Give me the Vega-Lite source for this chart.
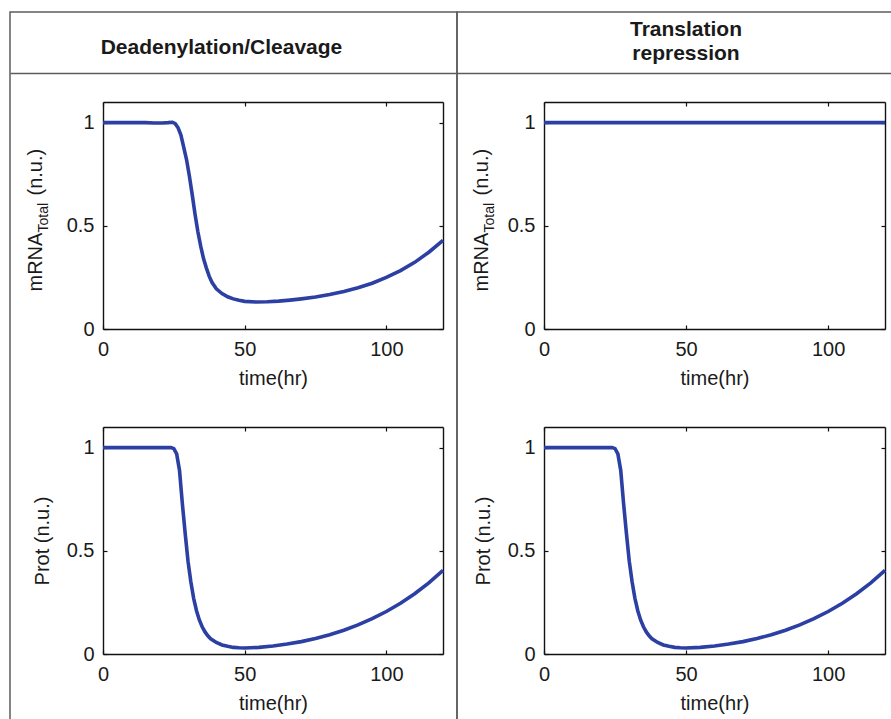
{
  "$schema": "https://vega.github.io/schema/vega-lite/v6.json",
  "padding": {"left": 9, "top": 11, "right": 0, "bottom": 0},
  "spacing": 0,
  "bounds": "flush",
  "datasets": {
    "mrna_dc": [
      {"t": 0, "v": 1}, {"t": 5, "v": 1}, {"t": 10, "v": 1}, {"t": 15, "v": 1}, {"t": 18, "v": 0.998}, {"t": 21, "v": 0.998},
      {"t": 23, "v": 1.0}, {"t": 24.5, "v": 1.002}, {"t": 25.5, "v": 0.995}, {"t": 26.5, "v": 0.975}, {"t": 27.5, "v": 0.94},
      {"t": 28.5, "v": 0.88}, {"t": 29.5, "v": 0.82}, {"t": 30.5, "v": 0.74}, {"t": 31.5, "v": 0.65}, {"t": 32.5, "v": 0.555},
      {"t": 33.5, "v": 0.47}, {"t": 34.5, "v": 0.4}, {"t": 35.5, "v": 0.34}, {"t": 36.5, "v": 0.295}, {"t": 37.5, "v": 0.255},
      {"t": 38.5, "v": 0.225}, {"t": 40, "v": 0.195}, {"t": 42, "v": 0.172}, {"t": 44, "v": 0.156}, {"t": 46, "v": 0.146},
      {"t": 48, "v": 0.139}, {"t": 50, "v": 0.134}, {"t": 54, "v": 0.131}, {"t": 58, "v": 0.132}, {"t": 62, "v": 0.135},
      {"t": 66, "v": 0.14}, {"t": 70, "v": 0.146}, {"t": 75, "v": 0.155}, {"t": 80, "v": 0.167}, {"t": 85, "v": 0.182},
      {"t": 90, "v": 0.2}, {"t": 95, "v": 0.222}, {"t": 100, "v": 0.25}, {"t": 105, "v": 0.283}, {"t": 110, "v": 0.323},
      {"t": 115, "v": 0.372}, {"t": 120, "v": 0.43}
    ],
    "mrna_tr": [{"t": 0, "v": 1}, {"t": 60, "v": 1}, {"t": 120, "v": 1}],
    "prot": [
      {"t": 0, "v": 1}, {"t": 10, "v": 1}, {"t": 20, "v": 1}, {"t": 24, "v": 1}, {"t": 25, "v": 0.995}, {"t": 26, "v": 0.97},
      {"t": 27, "v": 0.89}, {"t": 28, "v": 0.73}, {"t": 29, "v": 0.585}, {"t": 30, "v": 0.45}, {"t": 31, "v": 0.35},
      {"t": 32, "v": 0.27}, {"t": 33, "v": 0.21}, {"t": 34, "v": 0.165}, {"t": 35, "v": 0.132}, {"t": 36, "v": 0.107},
      {"t": 37, "v": 0.088}, {"t": 38, "v": 0.074}, {"t": 40, "v": 0.056}, {"t": 42, "v": 0.044}, {"t": 44, "v": 0.037},
      {"t": 46, "v": 0.032}, {"t": 48, "v": 0.03}, {"t": 50, "v": 0.029}, {"t": 55, "v": 0.032}, {"t": 60, "v": 0.039},
      {"t": 65, "v": 0.048}, {"t": 70, "v": 0.06}, {"t": 75, "v": 0.075}, {"t": 80, "v": 0.093}, {"t": 85, "v": 0.115},
      {"t": 90, "v": 0.141}, {"t": 95, "v": 0.171}, {"t": 100, "v": 0.206}, {"t": 105, "v": 0.246}, {"t": 110, "v": 0.292},
      {"t": 115, "v": 0.345}, {"t": 120, "v": 0.405}
    ]
  },
  "hconcat": [
    {
      "width": 447, "height": 713,
      "layer": [
        {
          "data": {"values": [{"h": "Deadenylation/Cleavage", "cx": 0, "cy": 0}]},
          "mark": {"type": "text", "font": "Liberation Sans", "fontWeight": "bold", "fontSize": 21, "color": "#1a1a1a", "baseline": "alphabetic", "dx": -12, "dy": 11},
          "encoding": {
            "text": {"field": "h"},
            "x": {"field": "cx", "type": "quantitative", "scale": {"domain": [-1, 1]},
              "axis": {"orient": "top", "offset": -61, "domain": true, "domainColor": "#5c5c5c", "domainWidth": 1.5, "ticks": false, "labels": false, "title": null}},
            "y": {"field": "cy", "type": "quantitative", "scale": {"domain": [-1, 1], "range": [61, 0]}, "axis": null}
          }
        },
        {
          "data": {"name": "mrna_dc"},
          "layer": [
            {
              "mark": {"type": "line", "color": "#2C3FA3", "strokeWidth": 3.6},
              "encoding": {
                "x": {"field": "t", "type": "quantitative", "scale": {"domain": [0, 120], "range": [93, 433], "nice": false, "zero": false},
                  "axis": {"orient": "bottom", "offset": -396, "values": [0, 50, 100], "format": "~f", "title": "time(hr)", "labelPadding": 14, "titlePadding": 9, "labelFlush": false}},
                "y": {"field": "v", "type": "quantitative", "scale": {"domain": [0, 1.1], "range": [317, 90], "nice": false, "zero": false},
                  "axis": {"orient": "left", "offset": -93, "values": [0, 0.5, 1], "format": "~f", "labelPadding": 13, "title": "mRNA", "titleAngle": 270, "titleAlign": "left", "titleBaseline": "alphabetic", "titleX": -62, "titleY": 279}}
              }
            },
            {
              "mark": {"type": "line", "opacity": 0},
              "encoding": {
                "x": {"field": "t", "type": "quantitative", "scale": {"domain": [0, 120], "range": [93, 433], "nice": false, "zero": false},
                  "axis": {"orient": "top", "offset": -90, "values": [0, 50, 100], "labels": false, "title": null}},
                "y": {"field": "v", "type": "quantitative", "scale": {"domain": [0, 1.1], "range": [317, 90], "nice": false, "zero": false},
                  "axis": {"orient": "right", "offset": -14, "values": [0, 0.5, 1], "labels": false, "title": null}}
              }
            },
            {
              "mark": {"type": "line", "opacity": 0},
              "encoding": {
                "x": {"field": "t", "type": "quantitative", "scale": {"domain": [0, 120], "range": [93, 433], "nice": false, "zero": false}, "axis": null},
                "y": {"field": "v", "type": "quantitative", "scale": {"domain": [0, 1.1], "range": [317, 90], "nice": false, "zero": false},
                  "axis": {"orient": "left", "offset": -93, "domain": false, "ticks": false, "labels": false, "title": "Total", "titleFontSize": 14, "titleAngle": 270, "titleAlign": "left", "titleBaseline": "alphabetic", "titleX": -56, "titleY": 220}}
              }
            },
            {
              "mark": {"type": "line", "opacity": 0},
              "encoding": {
                "x": {"field": "t", "type": "quantitative", "scale": {"domain": [0, 120], "range": [93, 433], "nice": false, "zero": false}, "axis": null},
                "y": {"field": "v", "type": "quantitative", "scale": {"domain": [0, 1.1], "range": [317, 90], "nice": false, "zero": false},
                  "axis": {"orient": "left", "offset": -93, "domain": false, "ticks": false, "labels": false, "title": "(n.u.)", "titleAngle": 270, "titleAlign": "left", "titleBaseline": "alphabetic", "titleX": -62, "titleY": 183}}
              }
            }
          ],
          "resolve": {"axis": {"x": "independent", "y": "independent"}}
        },
        {
          "data": {"name": "prot"},
          "layer": [
            {
              "mark": {"type": "line", "color": "#2C3FA3", "strokeWidth": 3.6},
              "encoding": {
                "x": {"field": "t", "type": "quantitative", "scale": {"domain": [0, 120], "range": [93, 433], "nice": false, "zero": false},
                  "axis": {"orient": "bottom", "offset": -71, "values": [0, 50, 100], "format": "~f", "title": "time(hr)", "labelPadding": 14, "titlePadding": 9, "labelFlush": false}},
                "y": {"field": "v", "type": "quantitative", "scale": {"domain": [0, 1.1], "range": [642, 415], "nice": false, "zero": false},
                  "axis": {"orient": "left", "offset": -93, "values": [0, 0.5, 1], "format": "~f", "labelPadding": 13, "title": "Prot (n.u.)", "titlePadding": 14}}
              }
            },
            {
              "mark": {"type": "line", "opacity": 0},
              "encoding": {
                "x": {"field": "t", "type": "quantitative", "scale": {"domain": [0, 120], "range": [93, 433], "nice": false, "zero": false},
                  "axis": {"orient": "top", "offset": -415, "values": [0, 50, 100], "labels": false, "title": null}},
                "y": {"field": "v", "type": "quantitative", "scale": {"domain": [0, 1.1], "range": [642, 415], "nice": false, "zero": false},
                  "axis": {"orient": "right", "offset": -14, "values": [0, 0.5, 1], "labels": false, "title": null}}
              }
            }
          ],
          "resolve": {"axis": {"x": "independent", "y": "independent"}}
        }
      ],
      "resolve": {"scale": {"x": "independent", "y": "independent"}, "axis": {"x": "independent", "y": "independent"}}
    },
    {
      "width": 440, "height": 713,
      "layer": [
        {
          "data": {"values": [{"h": ["Translation", "repression"], "cx": 0, "cy": 0}]},
          "mark": {"type": "text", "font": "Liberation Sans", "fontWeight": "bold", "fontSize": 21, "color": "#1a1a1a", "baseline": "alphabetic", "lineHeight": 24, "dx": 9, "dy": -6.5},
          "encoding": {
            "text": {"field": "h"},
            "x": {"field": "cx", "type": "quantitative", "scale": {"domain": [-1, 1]},
              "axis": {"orient": "top", "offset": -61, "domain": true, "domainColor": "#5c5c5c", "domainWidth": 1.5, "ticks": false, "labels": false, "title": null}},
            "y": {"field": "cy", "type": "quantitative", "scale": {"domain": [-1, 1], "range": [61, 0]}, "axis": null}
          }
        },
        {
          "data": {"name": "mrna_tr"},
          "layer": [
            {
              "mark": {"type": "line", "color": "#2C3FA3", "strokeWidth": 3.6},
              "encoding": {
                "x": {"field": "t", "type": "quantitative", "scale": {"domain": [0, 120], "range": [87, 428], "nice": false, "zero": false},
                  "axis": {"orient": "bottom", "offset": -396, "values": [0, 50, 100], "format": "~f", "title": "time(hr)", "labelPadding": 14, "titlePadding": 9, "labelFlush": false}},
                "y": {"field": "v", "type": "quantitative", "scale": {"domain": [0, 1.1], "range": [317, 90], "nice": false, "zero": false},
                  "axis": {"orient": "left", "offset": -87, "values": [0, 0.5, 1], "format": "~f", "labelPadding": 13, "title": "mRNA", "titleAngle": 270, "titleAlign": "left", "titleBaseline": "alphabetic", "titleX": -57, "titleY": 279}}
              }
            },
            {
              "mark": {"type": "line", "opacity": 0},
              "encoding": {
                "x": {"field": "t", "type": "quantitative", "scale": {"domain": [0, 120], "range": [87, 428], "nice": false, "zero": false},
                  "axis": {"orient": "top", "offset": -90, "values": [0, 50, 100], "labels": false, "title": null}},
                "y": {"field": "v", "type": "quantitative", "scale": {"domain": [0, 1.1], "range": [317, 90], "nice": false, "zero": false},
                  "axis": {"orient": "right", "offset": -12, "values": [0, 0.5, 1], "labels": false, "title": null}}
              }
            },
            {
              "mark": {"type": "line", "opacity": 0},
              "encoding": {
                "x": {"field": "t", "type": "quantitative", "scale": {"domain": [0, 120], "range": [87, 428], "nice": false, "zero": false}, "axis": null},
                "y": {"field": "v", "type": "quantitative", "scale": {"domain": [0, 1.1], "range": [317, 90], "nice": false, "zero": false},
                  "axis": {"orient": "left", "offset": -87, "domain": false, "ticks": false, "labels": false, "title": "Total", "titleFontSize": 14, "titleAngle": 270, "titleAlign": "left", "titleBaseline": "alphabetic", "titleX": -51, "titleY": 220}}
              }
            },
            {
              "mark": {"type": "line", "opacity": 0},
              "encoding": {
                "x": {"field": "t", "type": "quantitative", "scale": {"domain": [0, 120], "range": [87, 428], "nice": false, "zero": false}, "axis": null},
                "y": {"field": "v", "type": "quantitative", "scale": {"domain": [0, 1.1], "range": [317, 90], "nice": false, "zero": false},
                  "axis": {"orient": "left", "offset": -87, "domain": false, "ticks": false, "labels": false, "title": "(n.u.)", "titleAngle": 270, "titleAlign": "left", "titleBaseline": "alphabetic", "titleX": -57, "titleY": 183}}
              }
            }
          ],
          "resolve": {"axis": {"x": "independent", "y": "independent"}}
        },
        {
          "data": {"name": "prot"},
          "layer": [
            {
              "mark": {"type": "line", "color": "#2C3FA3", "strokeWidth": 3.6},
              "encoding": {
                "x": {"field": "t", "type": "quantitative", "scale": {"domain": [0, 120], "range": [87, 428], "nice": false, "zero": false},
                  "axis": {"orient": "bottom", "offset": -71, "values": [0, 50, 100], "format": "~f", "title": "time(hr)", "labelPadding": 14, "titlePadding": 9, "labelFlush": false}},
                "y": {"field": "v", "type": "quantitative", "scale": {"domain": [0, 1.1], "range": [642, 415], "nice": false, "zero": false},
                  "axis": {"orient": "left", "offset": -87, "values": [0, 0.5, 1], "format": "~f", "labelPadding": 13, "title": "Prot (n.u.)", "titlePadding": 14}}
              }
            },
            {
              "mark": {"type": "line", "opacity": 0},
              "encoding": {
                "x": {"field": "t", "type": "quantitative", "scale": {"domain": [0, 120], "range": [87, 428], "nice": false, "zero": false},
                  "axis": {"orient": "top", "offset": -415, "values": [0, 50, 100], "labels": false, "title": null}},
                "y": {"field": "v", "type": "quantitative", "scale": {"domain": [0, 1.1], "range": [642, 415], "nice": false, "zero": false},
                  "axis": {"orient": "right", "offset": -12, "values": [0, 0.5, 1], "labels": false, "title": null}}
              }
            }
          ],
          "resolve": {"axis": {"x": "independent", "y": "independent"}}
        }
      ],
      "resolve": {"scale": {"x": "independent", "y": "independent"}, "axis": {"x": "independent", "y": "independent"}}
    }
  ],
  "config": {
    "view": {"stroke": "#5c5c5c", "strokeWidth": 1.5},
    "concat": {"spacing": 0},
    "axis": {
      "grid": false,
      "labelFont": "Liberation Sans", "labelFontSize": 20, "labelColor": "#1a1a1a",
      "titleFont": "Liberation Sans", "titleFontSize": 20, "titleFontWeight": "normal", "titleColor": "#1a1a1a",
      "domainColor": "#111111", "domainWidth": 1.4, "tickColor": "#111111", "tickWidth": 1.2, "tickSize": -4,
      "labelFlush": false
    }
  }
}
